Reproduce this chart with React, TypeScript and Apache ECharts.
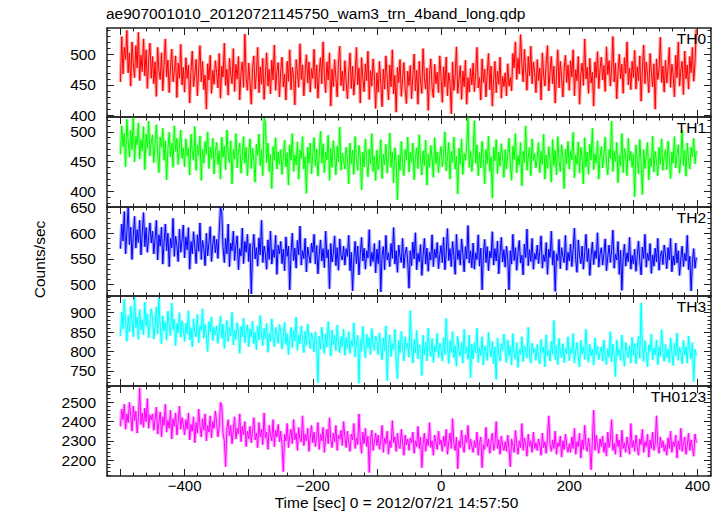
import React, { useEffect, useRef } from "react";
import * as echarts from "echarts";

// Time bins (seconds from 2012/07/21 14:57:50), 2 s per bin
const TIME_START = -500;
const TIME_STEP = 2;

const TH0 = [
  455, 530, 468, 512, 492, 540, 470, 503, 448, 521, 486, 462, 515, 478, 537, 457, 499, 472, 526, 465, 508, 444, 493, 519, 461,
  497, 452, 488, 431, 512, 474, 459, 503, 440, 484, 526, 463, 491, 437, 478, 509, 455, 472, 498, 429, 486, 461, 517, 450, 479,
  438, 495, 461, 483, 420, 472, 506, 447, 468, 492, 432, 477, 515, 455, 489, 442, 466, 410, 485, 458, 499, 436, 474, 451, 490,
  470, 445, 502, 428, 481, 463, 519, 449, 476, 433, 494, 467, 452, 510, 439, 484, 460, 497, 425, 471, 488, 446, 534, 462, 441,
  486, 455, 418, 477, 498, 443, 469, 512, 437, 480, 451, 494, 426, 465, 503, 448, 476, 435, 491, 458, 516, 441, 472, 487, 430,
  474, 496, 447, 468, 425, 489, 456, 508, 442, 479, 463, 417, 492, 470, 446, 518, 459, 483, 432, 471, 500, 453, 488, 438, 477,
  461, 509, 444, 483, 428, 470, 495, 452, 521, 466, 437, 488, 458, 503, 415, 476, 447, 492, 462, 430, 485, 514, 449, 473, 440,
  490, 455, 427, 472, 503, 444, 481, 433, 466, 512, 450, 478, 420, 495, 461, 439, 485, 457, 506, 426, 474, 448, 493, 464, 411,
  470, 438, 489, 452, 414, 476, 443, 498, 461, 425, 483, 447, 508, 435, 466, 405, 479, 454, 492, 431, 460, 487, 444, 419, 473,
  449, 482, 427, 465, 501, 440, 474, 418, 489, 455, 436, 510, 462, 443, 478, 408, 467, 493, 446, 429, 484, 452, 471, 437, 498,
  463, 421, 480, 447, 496, 432, 470, 454, 402, 488, 441, 465, 513, 436, 459, 482, 426, 473, 447, 491, 418, 462, 438, 477, 450,
  486, 439, 470, 512, 445, 462, 425, 493, 454, 476, 430, 468, 502, 442, 481, 415, 460, 489, 437, 473, 451, 496, 428, 464, 447,
  470, 432, 485, 448, 462, 440, 502, 478, 521, 459, 494, 468, 533, 486, 455, 509, 473, 441, 497, 465, 514, 452, 488, 470, 437,
  492, 457, 478, 425, 503, 466, 448, 486, 515, 440, 472, 497, 452, 481, 420, 467, 508, 445, 489, 461, 430, 476, 499, 454, 483,
  441, 490, 463, 508, 432, 475, 457, 497, 418, 468, 486, 449, 526, 460, 479, 436, 494, 453, 471, 415, 488, 462, 505, 444, 477,
  496, 458, 482, 439, 513, 467, 490, 448, 475, 530, 455, 486, 427, 472, 501, 460, 484, 436, 495, 469, 521, 450, 478, 442, 489,
  462, 507, 443, 480, 457, 498, 423, 474, 516, 452, 488, 466, 437, 502, 471, 447, 485, 410, 493, 459, 476, 529, 454, 481, 438,
  491, 453, 477, 512, 446, 484, 467, 430, 499, 462, 521, 448, 475, 489, 434, 506, 460, 483, 443, 497, 470, 512, 456, 486, 542,
];

const TH1 = [
  462, 510, 475, 498, 441, 521, 486, 457, 503, 470, 524, 449, 492, 478, 515, 454, 487, 468, 509, 436, 496, 472, 518, 459, 483,
  495, 448, 480, 512, 462, 431, 491, 474, 506, 452, 485, 419, 470, 499, 458, 481, 440, 510, 467, 489, 445, 476, 503, 455, 473,
  441, 488, 459, 473, 427, 496, 466, 452, 509, 435, 478, 460, 493, 418, 471, 447, 484, 462, 500, 438, 474, 455, 489, 429, 467,
  482, 445, 468, 420, 491, 457, 476, 436, 503, 463, 448, 485, 412, 470, 454, 497, 439, 466, 481, 430, 459, 492, 447, 474, 426,
  465, 488, 438, 472, 451, 415, 479, 460, 496, 443, 470, 426, 523, 515, 448, 481, 433, 462, 404, 475, 452, 490, 437, 466, 445,
  470, 428, 459, 486, 441, 465, 410, 478, 452, 497, 433, 461, 444, 483, 420, 469, 455, 492, 437, 458, 396, 474, 447, 481, 429,
  463, 490, 442, 471, 425, 458, 501, 447, 480, 431, 466, 453, 494, 418, 472, 440, 485, 461, 427, 476, 449, 508, 435, 464, 452,
  437, 474, 455, 412, 481, 446, 469, 428, 492, 453, 435, 477, 460, 402, 466, 441, 488, 450, 424, 471, 445, 497, 433, 459, 418,
  469, 436, 455, 487, 421, 462, 444, 479, 430, 458, 498, 440, 466, 414, 473, 451, 385, 461, 435, 484, 447, 426, 470, 452, 491,
  432, 466, 448, 481, 419, 457, 473, 438, 495, 451, 427, 468, 443, 486, 410, 462, 440, 477, 455, 423, 490, 446, 466, 431, 459,
  475, 441, 462, 500, 434, 456, 482, 420, 467, 448, 491, 437, 459, 395, 472, 445, 488, 428, 463, 452, 476, 524, 440, 468, 433,
  461, 519, 447, 478, 426, 465, 439, 484, 455, 412, 470, 446, 493, 433, 458, 388, 474, 451, 487, 429, 466, 442, 480, 457, 423,
  470, 437, 462, 489, 445, 418, 476, 453, 497, 431, 460, 444, 482, 409, 467, 448, 510, 435, 458, 474, 426, 488, 451, 463, 439,
  456, 482, 431, 467, 445, 496, 420, 461, 438, 475, 452, 415, 487, 443, 469, 427, 492, 450, 433, 478, 459, 404, 471, 446, 484,
  437, 468, 453, 499, 422, 461, 445, 483, 430, 474, 457, 412, 490, 441, 466, 428, 479, 452, 506, 436, 463, 447, 485, 420, 458,
  475, 439, 462, 491, 446, 427, 470, 455, 518, 433, 468, 449, 482, 414, 460, 443, 497, 431, 472, 456, 426, 489, 451, 467, 440,
  463, 390, 478, 452, 429, 487, 446, 394, 470, 438, 461, 482, 419, 456, 441, 493, 432, 467, 450, 426, 474, 445, 488, 435, 459,
  470, 436, 484, 455, 421, 466, 447, 492, 439, 461, 478, 430, 457, 503, 443, 469, 425, 481, 452, 437, 474, 458, 489, 446, 468,
];

const TH2 = [
  570, 618, 585, 642, 560, 603, 650, 578, 612, 549, 596, 633, 571, 607, 582, 625, 558, 599, 640, 574, 611, 563, 594, 620, 581,
  604, 560, 589, 625, 548, 597, 575, 612, 540, 583, 618, 566, 600, 535, 590, 572, 629, 555, 594, 577, 545, 608, 563, 587, 616,
  552, 593, 568, 611, 530, 584, 560, 603, 574, 541, 597, 565, 620, 549, 586, 571, 537, 600, 556, 582, 613, 545, 579, 595, 562,
  588, 551, 602, 650, 640, 572, 543, 590, 560, 618, 535, 581, 566, 604, 547, 576, 595, 529, 570, 556, 610, 541, 584, 563, 598,
  545, 580, 482, 566, 598, 550, 572, 536, 591, 558, 625, 543, 575, 561, 530, 587, 549, 604, 540, 568, 553, 596, 520, 577, 560,
  584, 541, 569, 527, 593, 555, 575, 490, 562, 600, 547, 571, 532, 586, 558, 614, 538, 566, 551, 590, 525, 573, 556, 542, 581,
  563, 598, 540, 576, 521, 559, 587, 546, 570, 533, 604, 552, 568, 492, 580, 544, 561, 595, 537, 572, 528, 589, 556, 548, 575,
  538, 570, 555, 596, 527, 563, 488, 548, 584, 541, 575, 519, 560, 592, 546, 571, 530, 566, 552, 607, 536, 563, 545, 580, 523,
  569, 541, 586, 486, 557, 574, 529, 596, 548, 562, 535, 580, 551, 611, 540, 566, 524, 577, 555, 543, 590, 532, 560, 573, 546,
  493, 566, 537, 583, 550, 601, 529, 561, 545, 578, 518, 556, 590, 540, 571, 526, 563, 548, 597, 535, 569, 552, 582, 531, 558,
  576, 543, 592, 529, 562, 609, 547, 570, 535, 584, 556, 520, 598, 549, 567, 538, 589, 561, 525, 574, 550, 615, 542, 566, 533,
  581, 530, 562, 549, 597, 536, 571, 490, 558, 588, 543, 574, 527, 565, 552, 603, 538, 570, 546, 585, 521, 560, 592, 544, 568,
  534, 575, 551, 490, 566, 540, 598, 547, 572, 528, 563, 586, 542, 557, 519, 579, 553, 608, 537, 568, 545, 590, 530, 561, 549,
  577, 541, 564, 595, 532, 558, 545, 582, 520, 569, 553, 604, 538, 566, 487, 560, 547, 588, 531, 572, 555, 543, 596, 528, 563,
  546, 579, 535, 568, 610, 549, 524, 587, 557, 541, 575, 530, 563, 598, 545, 570, 518, 556, 583, 539, 566, 551, 601, 534, 560,
  572, 538, 561, 589, 527, 554, 577, 543, 566, 606, 532, 559, 548, 584, 520, 567, 489, 553, 579, 536, 562, 545, 592, 530, 557,
  540, 569, 526, 556, 585, 545, 519, 573, 551, 598, 534, 561, 547, 580, 522, 558, 536, 571, 544, 590, 528, 555, 566, 539, 577,
  560, 531, 572, 548, 590, 525, 556, 538, 581, 542, 566, 518, 552, 575, 535, 561, 546, 596, 529, 555, 488, 543, 570, 532, 553,
];

const TH3 = [
  840, 902, 858, 935, 871, 826, 893, 850, 917, 878, 838, 940, 862, 889, 831, 908, 855, 881, 843, 927, 866, 897, 835, 874, 910,
  887, 832, 869, 915, 845, 938, 861, 820, 892, 853, 876, 829, 904, 866, 841, 925, 857, 883, 815, 872, 848, 900, 837, 879, 862,
  826, 873, 845, 905, 830, 861, 812, 884, 850, 838, 896, 823, 866, 855, 910, 834, 870, 842, 800, 877, 851, 889, 828, 862, 843,
  866, 821, 853, 892, 834, 870, 808, 845, 880, 826, 862, 840, 901, 817, 856, 831, 874, 848, 795, 865, 838, 886, 823, 851, 869,
  812, 858, 837, 878, 820, 849, 805, 866, 830, 893, 841, 815, 860, 833, 872, 798, 846, 826, 884, 838, 812, 862, 847, 821, 870,
  851, 806, 839, 875, 818, 846, 792, 834, 862, 810, 855, 827, 889, 803, 842, 820, 866, 830, 797, 852, 815, 871, 836, 807, 848,
  834, 799, 851, 815, 720, 840, 806, 863, 822, 795, 846, 811, 877, 830, 788, 855, 817, 841, 802, 868, 823, 797, 838, 812, 858,
  790, 836, 808, 851, 795, 828, 812, 874, 786, 823, 842, 718, 831, 800, 865, 817, 783, 845, 809, 836, 792, 859, 821, 803, 840,
  826, 792, 848, 810, 779, 835, 801, 866, 725, 818, 843, 787, 820, 804, 857, 780, 730, 829, 797, 852, 813, 776, 838, 806, 822,
  785, 905, 812, 770, 831, 796, 854, 781, 817, 806, 738, 842, 791, 824, 776, 860, 802, 787, 833, 772, 815, 799, 847, 784, 821,
  808, 775, 836, 792, 885, 813, 769, 828, 797, 851, 784, 815, 762, 839, 801, 788, 824, 770, 857, 795, 811, 780, 842, 732, 819,
  781, 823, 796, 860, 772, 810, 790, 838, 765, 815, 799, 777, 849, 806, 786, 826, 768, 812, 728, 835, 793, 775, 820, 803, 845,
  806, 771, 830, 789, 814, 765, 846, 797, 780, 823, 759, 805, 792, 838, 774, 815, 801, 783, 862, 790, 770, 821, 796, 809, 777,
  818, 785, 768, 831, 797, 812, 760, 843, 788, 804, 775, 826, 793, 880, 779, 815, 766, 834, 799, 784, 820, 771, 808, 795, 838,
  776, 810, 795, 846, 770, 801, 823, 787, 760, 829, 794, 813, 780, 857, 798, 772, 818, 789, 806, 765, 835, 791, 814, 778, 800,
  812, 775, 829, 794, 766, 808, 785, 851, 773, 819, 797, 735, 830, 789, 806, 777, 842, 795, 762, 823, 801, 784, 815, 770, 836,
  790, 821, 768, 805, 839, 782, 925, 811, 774, 828, 796, 760, 817, 800, 845, 778, 809, 791, 830, 766, 812, 787, 856, 798, 775,
  818, 783, 806, 772, 835, 795, 764, 822, 789, 848, 777, 810, 796, 768, 829, 791, 812, 770, 840, 799, 781, 823, 722, 806, 790,
];

const TH0123 = [
  2375, 2465, 2410, 2490, 2360, 2440, 2395, 2500, 2430, 2350, 2480, 2405, 2455, 2340, 2425, 2575, 2385, 2445, 2370, 2470, 2400, 2520, 2365, 2435, 2410,
  2440, 2355, 2410, 2475, 2335, 2395, 2450, 2320, 2425, 2380, 2490, 2345, 2405, 2365, 2460, 2310, 2415, 2375, 2445, 2330, 2400, 2480, 2360, 2420, 2385,
  2330, 2410, 2360, 2445, 2305, 2385, 2350, 2425, 2290, 2395, 2340, 2465, 2375, 2320, 2415, 2355, 2440, 2300, 2380, 2345, 2430, 2315, 2400, 2365, 2455,
  2395, 2320, 2370, 2500, 2480, 2340, 2300, 2165, 2360, 2410, 2325, 2380, 2285, 2355, 2425, 2310, 2365, 2335, 2440, 2295, 2375, 2330, 2400, 2270, 2350,
  2310, 2375, 2290, 2350, 2420, 2305, 2340, 2265, 2395, 2320, 2360, 2280, 2445, 2315, 2345, 2255, 2380, 2330, 2300, 2410, 2270, 2355, 2320, 2385, 2295,
  2350, 2280, 2140, 2335, 2300, 2390, 2265, 2325, 2360, 2285, 2410, 2305, 2340, 2250, 2370, 2310, 2295, 2430, 2275, 2335, 2300, 2365, 2245, 2320, 2380,
  2290, 2345, 2270, 2320, 2395, 2255, 2335, 2300, 2370, 2240, 2315, 2360, 2285, 2420, 2305, 2265, 2340, 2295, 2380, 2250, 2330, 2310, 2355, 2275, 2400,
  2320, 2265, 2350, 2290, 2245, 2335, 2305, 2390, 2260, 2315, 2280, 2440, 2300, 2235, 2345, 2285, 2365, 2270, 2325, 2135, 2310, 2355, 2250, 2295, 2340,
  2275, 2330, 2255, 2305, 2380, 2240, 2315, 2285, 2350, 2230, 2300, 2265, 2405, 2290, 2320, 2245, 2340, 2275, 2260, 2360, 2295, 2225, 2330, 2280, 2310,
  2250, 2315, 2290, 2345, 2235, 2300, 2270, 2375, 2260, 2320, 2160, 2285, 2340, 2245, 2310, 2275, 2395, 2265, 2300, 2225, 2330, 2290, 2255, 2350, 2280,
  2305, 2245, 2325, 2270, 2360, 2230, 2295, 2340, 2260, 2415, 2285, 2250, 2320, 2155, 2300, 2265, 2355, 2275, 2240, 2330, 2290, 2380, 2255, 2310, 2270,
  2240, 2300, 2265, 2345, 2225, 2290, 2320, 2160, 2280, 2255, 2370, 2270, 2310, 2235, 2295, 2340, 2250, 2285, 2400, 2260, 2305, 2230, 2325, 2275, 2250,
  2295, 2245, 2330, 2260, 2165, 2310, 2275, 2240, 2355, 2285, 2230, 2300, 2265, 2390, 2250, 2315, 2280, 2220, 2335, 2270, 2300, 2240, 2345, 2260, 2290,
  2250, 2310, 2275, 2225, 2340, 2265, 2295, 2235, 2320, 2430, 2280, 2245, 2305, 2260, 2350, 2230, 2290, 2270, 2325, 2215, 2300, 2255, 2335, 2275, 2240,
  2285, 2240, 2320, 2260, 2365, 2230, 2295, 2270, 2340, 2210, 2305, 2255, 2380, 2275, 2245, 2315, 2265, 2150, 2300, 2460, 2250, 2330, 2280, 2235, 2310,
  2270, 2325, 2240, 2290, 2220, 2345, 2265, 2300, 2410, 2250, 2285, 2230, 2335, 2270, 2305, 2215, 2355, 2260, 2290, 2240, 2320, 2275, 2230, 2390, 2265,
  2300, 2245, 2330, 2265, 2225, 2310, 2280, 2360, 2240, 2295, 2270, 2335, 2215, 2305, 2260, 2345, 2250, 2285, 2430, 2275, 2235, 2320, 2265, 2300, 2245,
  2280, 2225, 2315, 2260, 2350, 2240, 2295, 2270, 2330, 2210, 2300, 2255, 2365, 2245, 2285, 2320, 2230, 2275, 2340, 2250, 2305, 2265, 2220, 2335, 2290,
];

const PANEL_NAMES = ["TH0", "TH1", "TH2", "TH3", "TH0123"];
const PANEL_VALUES = [TH0, TH1, TH2, TH3, TH0123];
const PANEL_COLORS = ["#ff0000", "#00ff00", "#0000ff", "#00ffff", "#ff00ff"];
const Y_RANGES = [
  [397, 544],
  [373, 525],
  [478, 651],
  [711, 943],
  [2117, 2585],
];
const Y_MAJOR = [
  [400, 450, 500],
  [400, 450, 500],
  [500, 550, 600, 650],
  [750, 800, 850, 900],
  [2200, 2300, 2400, 2500],
];
const Y_MINOR = [
  [400, 410, 420, 430, 440, 450, 460, 470, 480, 490, 500, 510, 520, 530, 540],
  [380, 390, 400, 410, 420, 430, 440, 450, 460, 470, 480, 490, 500, 510, 520],
  [480, 490, 500, 510, 520, 530, 540, 550, 560, 570, 580, 590, 600, 610, 620, 630, 640, 650],
  [720, 730, 740, 750, 760, 770, 780, 790, 800, 810, 820, 830, 840, 850, 860, 870, 880, 890, 900, 910, 920, 930, 940],
  [2120, 2140, 2160, 2180, 2200, 2220, 2240, 2260, 2280, 2300, 2320, 2340, 2360, 2380, 2400, 2420, 2440, 2460, 2480, 2500, 2520, 2540, 2560, 2580],
];
const X_RANGE = [-521, 421];
const X_MAJOR = [-500, -400, -300, -200, -100, 0, 100, 200, 300, 400];
const X_LABELS = [-400, -200, 0, 200, 400];
const X_MINOR = [
  -520, -480, -460, -440, -420, -380, -360, -340, -320, -280, -260, -240, -220,
  -180, -160, -140, -120, -80, -60, -40, -20, 20, 40, 60, 80, 120, 140, 160, 180,
  220, 240, 260, 280, 320, 340, 360, 380, 420,
];

const TITLE = "ae907001010_20120721145750_wam3_trn_4band_long.qdp";
const X_TITLE = "Time [sec] 0 = 2012/07/21 14:57:50";
const Y_TITLE = "Counts/sec";

const W = 723;
const H = 516;
const GRID_LEFT = 107;
const GRID_RIGHT = 711;
const PANEL_TOPS = [28, 117, 207, 296, 386];
const PANEL_BOTTOM = 476;
const FONT = "'Liberation Sans', Arial, Helvetica, sans-serif";
const FRAME = { color: "#222", width: 1.5 };
const TICK = { color: "#222", width: 1 };

function fmtX(v: number) {
  return v < 0 ? "\u2212" + Math.abs(v) : String(v);
}
function fmtY(v: number) {
  return String(v);
}

export default function App() {
  const ref = useRef<HTMLDivElement>(null);
  useEffect(() => {
    if (!ref.current) return;
    const chart = echarts.init(ref.current, null, { renderer: "svg" });
    const grids: any[] = [];
    const xAxes: any[] = [];
    const yAxes: any[] = [];
    const series: any[] = [];
    const graphics: any[] = [];

    PANEL_NAMES.forEach((name, p) => {
      const top = PANEL_TOPS[p];
      const bottom = p < 4 ? PANEL_TOPS[p + 1] : PANEL_BOTTOM;
      grids.push({
        left: GRID_LEFT,
        width: GRID_RIGHT - GRID_LEFT,
        top,
        height: bottom - top,
        containLabel: false,
      });
      const baseX = {
        gridIndex: p,
        type: "value",
        min: X_RANGE[0],
        max: X_RANGE[1],
        splitLine: { show: false },
      };
      xAxes.push({
        ...baseX,
        position: "bottom",
        axisLine: { show: true, onZero: false, lineStyle: FRAME },
        axisTick: { show: true, inside: true, length: 7, customValues: X_MAJOR, lineStyle: TICK },
        axisLabel: {
          show: p === 4,
          customValues: X_LABELS,
          formatter: fmtX,
          fontFamily: FONT,
          fontSize: 15,
          lineHeight: 12,
          color: "#000",
          margin: 3,
        },
      });
      xAxes.push({
        ...baseX,
        position: "top",
        axisLine: { show: true, onZero: false, lineStyle: FRAME },
        axisTick: { show: true, inside: true, length: 7, customValues: X_MAJOR, lineStyle: TICK },
        axisLabel: { show: false },
      });
      xAxes.push({
        ...baseX,
        position: "bottom",
        axisLine: { show: false, onZero: false },
        axisTick: { show: true, inside: true, length: 3.5, customValues: X_MINOR, lineStyle: TICK },
        axisLabel: { show: false },
      });
      xAxes.push({
        ...baseX,
        position: "top",
        axisLine: { show: false, onZero: false },
        axisTick: { show: true, inside: true, length: 3.5, customValues: X_MINOR, lineStyle: TICK },
        axisLabel: { show: false },
      });

      const baseY = {
        gridIndex: p,
        type: "value",
        min: Y_RANGES[p][0],
        max: Y_RANGES[p][1],
        splitLine: { show: false },
      };
      yAxes.push({
        ...baseY,
        position: "left",
        axisLine: { show: true, onZero: false, lineStyle: FRAME },
        axisTick: { show: true, inside: true, length: 7, customValues: Y_MAJOR[p], lineStyle: TICK },
        axisLabel: {
          show: true,
          customValues: Y_MAJOR[p],
          formatter: fmtY,
          fontFamily: FONT,
          fontSize: 15.5,
          lineHeight: 14,
          color: "#000",
          margin: 11,
        },
      });
      yAxes.push({
        ...baseY,
        position: "right",
        axisLine: { show: true, onZero: false, lineStyle: FRAME },
        axisTick: { show: true, inside: true, length: 7, customValues: Y_MAJOR[p], lineStyle: TICK },
        axisLabel: { show: false },
      });
      yAxes.push({
        ...baseY,
        position: "left",
        axisLine: { show: false, onZero: false },
        axisTick: { show: true, inside: true, length: 3.5, customValues: Y_MINOR[p], lineStyle: TICK },
        axisLabel: { show: false },
      });
      yAxes.push({
        ...baseY,
        position: "right",
        axisLine: { show: false, onZero: false },
        axisTick: { show: true, inside: true, length: 3.5, customValues: Y_MINOR[p], lineStyle: TICK },
        axisLabel: { show: false },
      });

      const data = PANEL_VALUES[p].map((v, i) => [TIME_START + i * TIME_STEP, v]);
      series.push({
        type: "line",
        xAxisIndex: p * 4,
        yAxisIndex: p * 4,
        data,
        showSymbol: false,
        symbol: "none",
        clip: true,
        lineStyle: { color: PANEL_COLORS[p], width: 3.5, opacity: 0.35 },
        z: 2,
      });
      series.push({
        type: "line",
        xAxisIndex: p * 4,
        yAxisIndex: p * 4,
        data,
        showSymbol: false,
        symbol: "none",
        clip: true,
        lineStyle: { color: PANEL_COLORS[p], width: 1 },
        z: 3,
      });

      graphics.push({
        type: "text",
        right: W - 706,
        top: top + 2,
        z: 10,
        style: {
          text: name,
          fontFamily: FONT,
          fontSize: 15.5,
          fill: "#000",
        },
      });
    });

    graphics.push({
      type: "text",
      left: 106,
      top: 5,
      style: { text: TITLE, fontFamily: FONT, fontSize: 15.5, fill: "#000" },
    });
    graphics.push({
      type: "text",
      x: 396.5,
      y: 502,
      style: {
        text: X_TITLE,
        fontFamily: FONT,
        fontSize: 15.5,
        lineHeight: 12,
        fill: "#000",
        align: "center",
        verticalAlign: "middle",
      },
    });
    graphics.push({
      type: "text",
      x: 39.5,
      y: 259.5,
      rotation: Math.PI / 2,
      style: {
        text: Y_TITLE,
        fontFamily: FONT,
        fontSize: 15.5,
        fill: "#000",
        align: "center",
        verticalAlign: "middle",
      },
    });

    chart.setOption({
      animation: false,
      backgroundColor: "#fff",
      grid: grids,
      xAxis: xAxes,
      yAxis: yAxes,
      series,
      graphic: graphics,
    });
    return () => chart.dispose();
  }, []);
  return (
    <div
      ref={ref}
      style={{ position: "absolute", left: 0, top: 0, width: W, height: H }}
    />
  );
}
